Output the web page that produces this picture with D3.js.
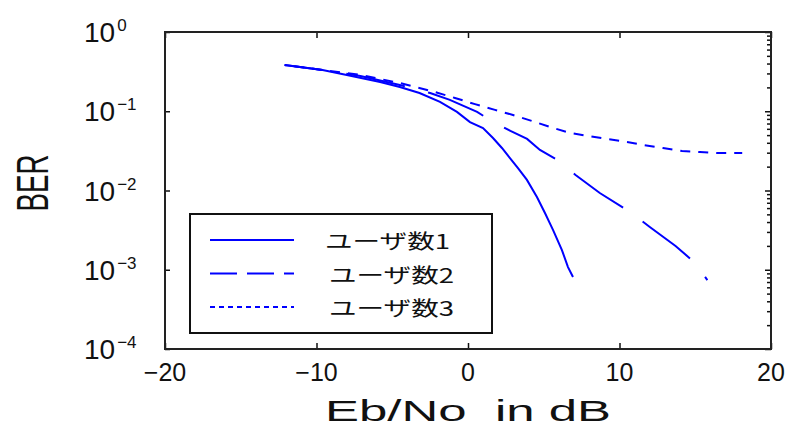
<!DOCTYPE html>
<html>
<head>
<meta charset="utf-8">
<script src="https://cdn.jsdelivr.net/npm/d3@7"></script>
<style>
body { margin: 0; background: #fff; }
text { font-family: "Liberation Sans", Arial, sans-serif; fill: #111; }
.jp { font-family: "Noto Sans CJK JP", sans-serif; }
</style>
</head>
<body>
<div id="chart"></div>
<script>
// BER vs Eb/No, per number of users

var snr1 = [-12.1, -11.1, -9.6, -8.0, -5.8, -4.5, -3.2, -1.85, -0.73, 0.13, 0.99, 1.65, 2.24, 2.77, 3.3, 3.89, 4.55, 5.08, 5.61, 6.2, 6.6, 6.93];
var ber1 = [0.384, 0.362, 0.332, 0.287, 0.234, 0.202, 0.170, 0.131, 0.098, 0.0731, 0.0615, 0.046, 0.0344, 0.0257, 0.0192, 0.0136, 0.00828, 0.0052, 0.00318, 0.00177, 0.00108, 0.00081];

var snr2 = [-12.1, -9.6, -7.1, -4.5, -2.5, -1.2, -0.3, 0.6, 1.45, 2.8, 3.9, 4.75, 5.9, 7.1, 8.7, 10.7, 12.0, 13.7, 15.0, 15.8];
var ber2 = [0.384, 0.332, 0.279, 0.214, 0.170, 0.139, 0.117, 0.098, 0.0776, 0.0564, 0.0447, 0.0325, 0.0243, 0.0157, 0.0093, 0.00535, 0.00346, 0.00199, 0.00122, 0.00074];

var snr3 = [-12.1, -9.6, -7.1, -4.5, -2.2, -0.86, 0.46, 1.78, 2.97, 4.22, 5.41, 6.73, 7.92, 9.17, 10.5, 11.55, 12.87, 14.13, 15.31, 16.5, 18.1];
var ber3 = [0.384, 0.332, 0.287, 0.227, 0.175, 0.147, 0.123, 0.104, 0.0897, 0.0754, 0.0633, 0.0532, 0.0488, 0.0447, 0.0409, 0.0375, 0.0344, 0.0315, 0.0306, 0.0297, 0.0297];

var seriesNames = ["ユーザ数1", "ユーザ数2", "ユーザ数3"];
var xTicks = [-20, -10, 0, 10, 20];
var yExps = [0, -1, -2, -3, -4];
var xLabel = "Eb/No  in dB";
var yLabel = "BER";

function berchart(divid) {
	var width = 789, height = 428;
	var pl = 165, pr = 771, pt = 32, pb = 349;

	var svg = d3.select(divid).append("svg")
		.attr("width", width)
		.attr("height", height);

	var x = d3.scaleLinear().domain([-20, 20]).range([pl, pr]);
	var y = d3.scaleLog().domain([1e-4, 1]).range([pb, pt]);

	function zip(a, b) {
		return a.map(function(v, i){return [v, b[i]];});
	}

	// curves
	var line = d3.line()
		.x(function(d){return x(d[0]);})
		.y(function(d){return y(d[1]);});

	// tail: length of the little dash the pattern should end on
	var styles = [
		{dash: null, per: 0, tail: 0, ldash: null},
		{dash: "60,24", per: 84, tail: 4, ldash: "27,10"},
		{dash: "10,8", per: 18, tail: 8, ldash: "5,4"}
	];
	var series = [zip(snr1, ber1), zip(snr2, ber2), zip(snr3, ber3)];

	svg.selectAll("path.curve").data(series)
		.enter().append("path")
		.attr("class", "curve")
		.attr("d", line)
		.attr("fill", "none")
		.attr("stroke", "#0000ff")
		.attr("stroke-width", 2)
		.attr("stroke-dasharray", function(d, i){return styles[i].dash;})
		.attr("stroke-dashoffset", function(d, i){
			var s = styles[i];
			if (!s.per) return 0;
			var len = this.getTotalLength();
			return ((s.tail - len) % s.per + s.per) % s.per;
		});

	// axes, ticks inward
	var yVals = yExps.map(function(e){return Math.pow(10, e);});
	var minor = [];
	for (var e = -4; e < 0; e++)
		for (var k = 2; k < 10; k++) minor.push(k * Math.pow(10, e));

	svg.append("g")
		.attr("transform", "translate(0," + pb + ")")
		.call(d3.axisBottom(x).tickValues(xTicks).tickSizeInner(-6).tickSizeOuter(0).tickFormat(""));
	svg.append("g")
		.attr("transform", "translate(0," + pt + ")")
		.call(d3.axisTop(x).tickValues(xTicks).tickSizeInner(-6).tickSizeOuter(0).tickFormat(""));
	svg.append("g")
		.attr("transform", "translate(" + pl + ",0)")
		.call(d3.axisLeft(y).tickValues(yVals).tickSizeInner(-5).tickSizeOuter(0).tickFormat(""));
	svg.append("g")
		.attr("transform", "translate(" + pr + ",0)")
		.call(d3.axisRight(y).tickValues(yVals).tickSizeInner(-6).tickSizeOuter(0).tickFormat(""));
	svg.append("g")
		.attr("transform", "translate(" + pr + ",0)")
		.call(d3.axisRight(y).tickValues(minor).tickSizeInner(-4).tickSizeOuter(0).tickFormat(""));

	svg.selectAll(".domain").remove();
	svg.selectAll(".tick line").attr("stroke", "#111").attr("stroke-width", 1.5);

	svg.append("rect")
		.attr("x", pl).attr("y", pt)
		.attr("width", pr - pl).attr("height", pb - pt)
		.attr("fill", "none")
		.attr("stroke", "#222")
		.attr("stroke-width", 2);

	// tick labels
	svg.selectAll("text.xt").data(xTicks)
		.enter().append("text")
		.attr("class", "xt")
		.attr("x", function(d){return x(d);})
		.attr("y", 381)
		.attr("text-anchor", "middle")
		.style("font-size", "25px")
		.text(function(d){return d < 0 ? "\u2212" + (-d) : d;});

	var yl = svg.selectAll("text.yt").data(yExps)
		.enter().append("text")
		.attr("class", "yt")
		.attr("x", 84)
		.attr("y", function(d){return y(Math.pow(10, d)) + 10;})
		.style("font-size", "28px");
	yl.append("tspan").text("10");
	yl.append("tspan")
		.attr("dy", -11)
		.attr("dx", 2)
		.style("font-size", "17px")
		.text(function(d){return d < 0 ? "\u2212" + (-d) : d;});

	// axis titles
	svg.append("text")
		.attr("x", 468)
		.attr("y", 421)
		.attr("text-anchor", "middle")
		.attr("textLength", 286)
		.attr("lengthAdjust", "spacingAndGlyphs")
		.style("white-space", "pre")
		.style("font-size", "30px")
		.text(xLabel);

	svg.append("text")
		.attr("transform", "translate(48,183) rotate(-90)")
		.attr("text-anchor", "middle")
		.attr("textLength", 57)
		.attr("lengthAdjust", "spacingAndGlyphs")
		.style("font-size", "44px")
		.text(yLabel);

	// legend
	var lg = svg.append("g");
	lg.append("rect")
		.attr("x", 190).attr("y", 214)
		.attr("width", 302).attr("height", 119)
		.attr("fill", "#fff")
		.attr("stroke", "#111")
		.attr("stroke-width", 2);

	var rows = lg.selectAll("g.row").data(seriesNames)
		.enter().append("g")
		.attr("class", "row")
		.attr("transform", function(d, i){return "translate(0," + (240 + i * 33.5) + ")";});
	rows.append("line")
		.attr("x1", 210).attr("x2", 294)
		.attr("stroke", "#0000ff")
		.attr("stroke-width", 2)
		.attr("stroke-dasharray", function(d, i){return styles[i].ldash;});
	rows.append("text")
		.attr("class", "jp")
		.attr("x", function(d, i){return i == 0 ? 325 : 329;})
		.attr("y", 9)
		.attr("textLength", 125)
		.attr("lengthAdjust", "spacingAndGlyphs")
		.style("font-size", "20px")
		.text(function(d){return d;});
}

berchart("#chart");
</script>
</body>
</html>
